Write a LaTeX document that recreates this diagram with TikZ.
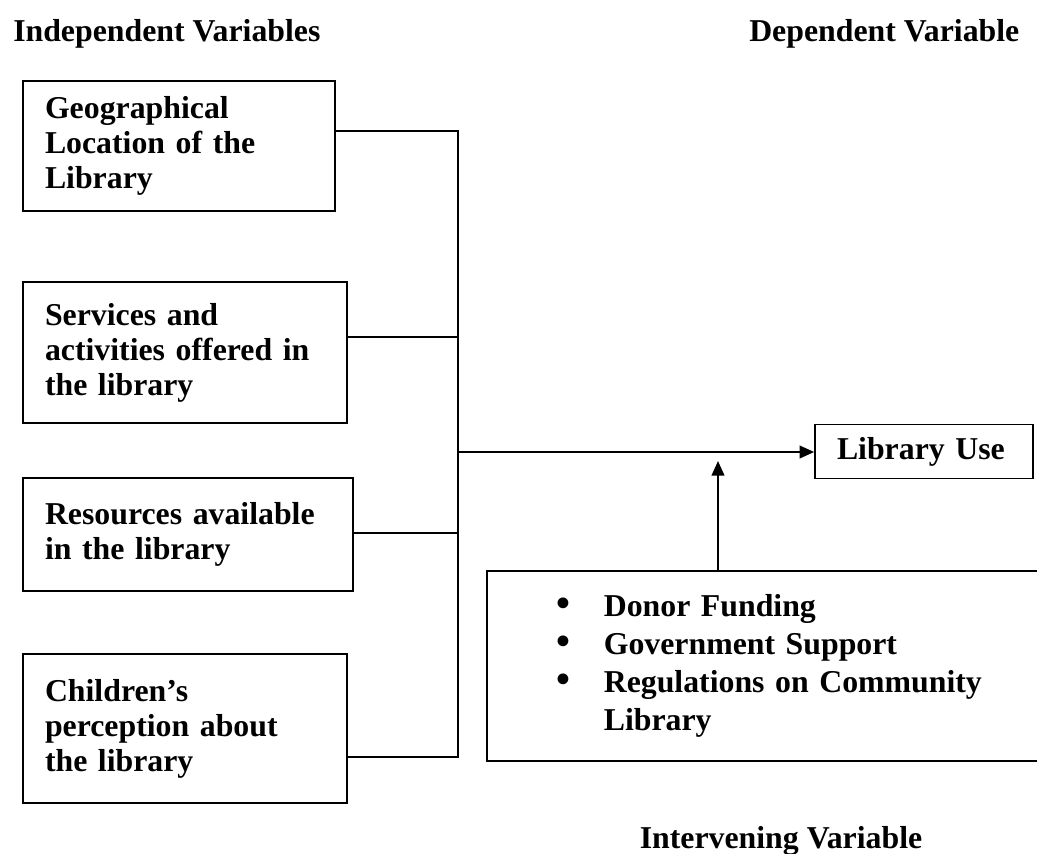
\documentclass[tikz,border=0pt]{standalone}
\usepackage{fontspec}
\usepackage{graphicx}
\setmainfont{Liberation Serif}
\usetikzlibrary{arrows.meta}
\newlength\upx
\setlength\upx{0.75pt}
\newcommand\bitem[1]{\hspace*{70\upx}\makebox[47\upx][l]{\smash{\scalebox{1.25}{\textbullet}}}#1}
\begin{document}
\begin{tikzpicture}[x=0.75pt,y=-0.75pt,
  font=\fontsize{23.85pt}{26.25pt}\selectfont\bfseries,
  box/.style={draw, line width=1.2pt, align=left, inner xsep=22\upx, inner ysep=0pt, anchor=center},
  ibox/.style={draw, line width=1.2pt, align=left, inner sep=0pt, anchor=north west,
     text width=574\upx, minimum height=190\upx,
     font=\fontsize{23.85pt}{28.7pt}\selectfont\bfseries},
  hd/.style={inner sep=0pt},
  conn/.style={line width=1pt},
  arr/.style={line width=1.5pt, -{Triangle[length=11pt,width=9.5pt]}}]
\useasboundingbox (0,0) rectangle (1037,853);
\clip (0,0) rectangle (1037,853);

\node[hd, anchor=base west] (indep) at (13,41) {Independent Variables};
\node[hd, anchor=base west] (dep) at (749,41) {Dependent Variable};
\node[hd, anchor=base] (interv) at (781,848) {Intervening Variable};

\node[box, text width=268\upx, minimum height=130\upx] (geo) at (179,146) {Geographical\\Location of the\\Library};
\node[box, text width=280\upx, minimum height=141\upx] (serv) at (185,352.5) {Services and\\activities offered in\\the library};
\node[box, text width=286\upx, minimum height=113\upx] (res) at (188,534.5) {Resources available\\in the library};
\node[box, text width=280\upx, minimum height=149\upx] (child) at (185,728.5) {Children’s\\perception about\\the library};

\node[box, text width=174\upx, minimum height=54\upx] (use) at (924,451.5) {Library Use};

\node[ibox] (iv) at (486,570) {\bitem{Donor Funding}\\\bitem{Government Support}\\\bitem{Regulations on Community}\\\hspace*{117\upx}Library};

\coordinate (j1) at (458,131);
\coordinate (j2) at (458,337);
\coordinate (j3) at (458,533);
\coordinate (j4) at (458,757);
\coordinate (jm) at (458,452);
\coordinate (tip) at (718,461);

\draw[conn] (geo.east |- j1) -- (j1) -- (j4) -- (child.east |- j4);
\draw[conn] (serv.east |- j2) -- (j2);
\draw[conn] (res.east |- j3) -- (j3);
\draw[arr] (jm) -- (jm -| use.west);
\draw[arr] (iv.north -| tip) -- (tip);
\end{tikzpicture}
\end{document}
